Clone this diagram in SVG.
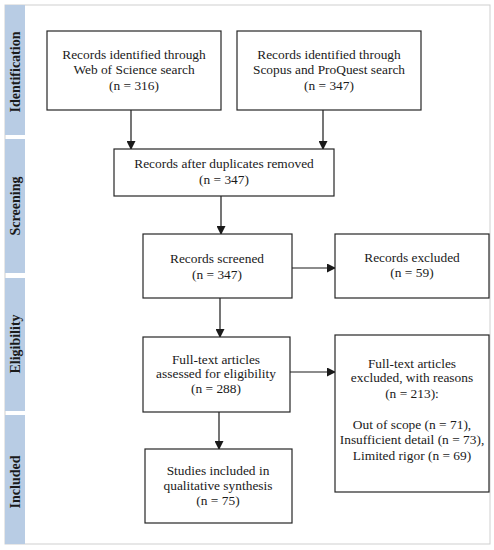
<svg xmlns="http://www.w3.org/2000/svg" width="494" height="550" viewBox="0 0 494 550">
<defs>
<style>
.box{fill:#fff;stroke:#262626;stroke-width:1.2}
.t{font-family:"Liberation Serif","Times New Roman","DejaVu Serif",serif;font-size:13.4px;fill:#1a1a1a;text-anchor:middle}
.side{font-family:"Liberation Serif","Times New Roman","DejaVu Serif",serif;font-size:14px;font-weight:bold;fill:#1a1a1a;text-anchor:middle}
.bar{fill:#b8cce4}
.con{stroke:#1a1a1a;stroke-width:1.2;fill:none;marker-end:url(#ah)}
</style>
<marker id="ah" markerWidth="9" markerHeight="9" refX="8" refY="4.5" orient="auto" markerUnits="userSpaceOnUse">
<path d="M0,0 L9,4.5 L0,9 Z" fill="#1a1a1a"/>
</marker>
</defs>
<rect x="0" y="0" width="494" height="550" fill="#fff"/>
<rect x="5" y="5" width="485" height="539" fill="#fff" stroke="#cfcfcf" stroke-width="1"/>
<g id="phases">
<rect class="bar" x="5" y="5" width="20" height="130"/>
<rect class="bar" x="5" y="139" width="20" height="134"/>
<rect class="bar" x="5" y="278" width="20" height="133"/>
<rect class="bar" x="5" y="415" width="20" height="129"/>
<text class="side" transform="translate(20,72) rotate(-90)">Identification</text>
<text class="side" transform="translate(20,206) rotate(-90)">Screening</text>
<text class="side" transform="translate(20,344) rotate(-90)">Eligibility</text>
<text class="side" transform="translate(20,482) rotate(-90)">Included</text>
</g>
<g id="connectors">
<line class="con" x1="131" y1="110" x2="131" y2="149"/>
<line class="con" x1="323" y1="110" x2="323" y2="149"/>
<line class="con" x1="221" y1="196" x2="221" y2="234"/>
<line class="con" x1="292" y1="268" x2="335" y2="268"/>
<line class="con" x1="220" y1="298" x2="220" y2="337"/>
<line class="con" x1="290" y1="372" x2="335" y2="372"/>
<line class="con" x1="219" y1="412" x2="219" y2="449"/>
</g>
<g id="wos">
<rect class="box" x="47" y="31" width="174" height="79"/>
<text class="t" x="134" y="58.5">Records identified through</text>
<text class="t" x="134" y="74">Web of Science search</text>
<text class="t" x="134" y="89.5">(n = 316)</text>
</g>
<g id="scopus">
<rect class="box" x="237" y="31" width="184" height="79"/>
<text class="t" x="329" y="58.5">Records identified through</text>
<text class="t" x="329" y="74">Scopus and ProQuest search</text>
<text class="t" x="329" y="89.5">(n = 347)</text>
</g>
<g id="duplicates">
<rect class="box" x="114" y="149" width="220" height="47"/>
<text class="t" x="224" y="167.5">Records after duplicates removed</text>
<text class="t" x="224" y="184">(n = 347)</text>
</g>
<g id="screened">
<rect class="box" x="143" y="234" width="149" height="64"/>
<text class="t" x="217" y="263">Records screened</text>
<text class="t" x="217" y="278.5">(n = 347)</text>
</g>
<g id="excluded">
<rect class="box" x="335" y="234" width="154" height="64"/>
<text class="t" x="412" y="261.5">Records excluded</text>
<text class="t" x="412" y="277">(n = 59)</text>
</g>
<g id="fulltext">
<rect class="box" x="143" y="337" width="147" height="75"/>
<text class="t" x="216" y="363.5">Full-text articles</text>
<text class="t" x="216" y="378">assessed for eligibility</text>
<text class="t" x="216" y="392.5">(n = 288)</text>
</g>
<g id="reasons">
<rect class="box" x="335" y="335" width="154" height="157"/>
<text class="t" x="412" y="367.5">Full-text articles</text>
<text class="t" x="412" y="381.5">excluded, with reasons</text>
<text class="t" x="412" y="397.5">(n = 213):</text>
<text class="t" x="412" y="428.5">Out of scope (n = 71),</text>
<text class="t" x="412" y="444">Insufficient detail (n = 73),</text>
<text class="t" x="412" y="460">Limited rigor (n = 69)</text>
</g>
<g id="included">
<rect class="box" x="145" y="449" width="147" height="74"/>
<text class="t" x="218" y="474.5">Studies included in</text>
<text class="t" x="218" y="490">qualitative synthesis</text>
<text class="t" x="218" y="505">(n = 75)</text>
</g>
</svg>
